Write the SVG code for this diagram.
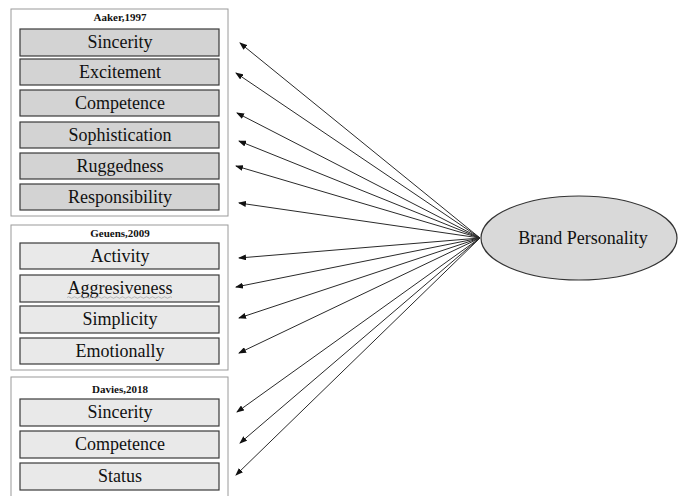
<svg xmlns="http://www.w3.org/2000/svg" width="678" height="496" viewBox="0 0 678 496">
<style>
.outer{fill:#fff;stroke:#9a9a9a;stroke-width:1}
.itemA{fill:#d3d3d3;stroke:#3a3a3a;stroke-width:1.2}
.itemB{fill:#e9e9e9;stroke:#3a3a3a;stroke-width:1.2}
.lbl{font-family:"Liberation Serif","Times New Roman",serif;font-size:18px;fill:#111;text-anchor:middle}
.ttl{font-family:"Liberation Serif","Times New Roman",serif;font-size:11px;font-weight:bold;fill:#111;text-anchor:middle}
.conn{stroke:#2a2a2a;stroke-width:1;fill:none;marker-end:url(#ah)}
</style>
<defs>
<marker id="ah" markerWidth="8" markerHeight="6" refX="7" refY="3" orient="auto" markerUnits="userSpaceOnUse">
<path d="M0,0 L8,3 L0,6 Z" fill="#111"/>
</marker>
</defs>
<rect width="678" height="496" fill="#fff"/>
<g id="group-aaker">
<rect class="outer" x="11" y="9" width="217" height="207"/>
<text class="ttl" x="120" y="21">Aaker,1997</text>
</g>
<g id="aaker-sincerity"><rect class="itemA" x="20" y="29" width="199" height="27"/><text class="lbl" x="120" y="48">Sincerity</text></g>
<g id="aaker-excitement"><rect class="itemA" x="20" y="59" width="199" height="26"/><text class="lbl" x="120" y="78">Excitement</text></g>
<g id="aaker-competence"><rect class="itemA" x="20" y="90" width="199" height="26"/><text class="lbl" x="120" y="109">Competence</text></g>
<g id="aaker-sophistication"><rect class="itemA" x="20" y="122" width="199" height="26"/><text class="lbl" x="120" y="141">Sophistication</text></g>
<g id="aaker-ruggedness"><rect class="itemA" x="20" y="153" width="199" height="26"/><text class="lbl" x="120" y="172">Ruggedness</text></g>
<g id="aaker-responsibility"><rect class="itemA" x="20" y="184" width="199" height="26"/><text class="lbl" x="120" y="203">Responsibility</text></g>

<g id="group-geuens">
<rect class="outer" x="11" y="225" width="217" height="145"/>
<text class="ttl" x="120" y="237">Geuens,2009</text>
</g>
<g id="geuens-activity"><rect class="itemB" x="20" y="243" width="199" height="26"/><text class="lbl" x="120" y="262">Activity</text></g>
<g id="geuens-aggresiveness"><rect class="itemB" x="20" y="275" width="199" height="27"/><text class="lbl" x="120" y="294">Aggresiveness</text>
<path d="M67,297.5 q1.5,-1.5 3,0 t3,0 t3,0 t3,0 t3,0 t3,0 t3,0 t3,0 t3,0 t3,0 t3,0 t3,0 t3,0 t3,0 t3,0 t3,0 t3,0 t3,0 t3,0 t3,0 t3,0 t3,0 t3,0 t3,0 t3,0 t3,0 t3,0 t3,0 t3,0 t3,0 t3,0 t3,0 t3,0 t3,0 t3,0" fill="none" stroke="#aaa" stroke-width="0.8"/></g>
<g id="geuens-simplicity"><rect class="itemB" x="20" y="306" width="199" height="27"/><text class="lbl" x="120" y="325">Simplicity</text></g>
<g id="geuens-emotionally"><rect class="itemB" x="20" y="338" width="199" height="26"/><text class="lbl" x="120" y="357">Emotionally</text></g>

<g id="group-davies">
<rect class="outer" x="11" y="377" width="217" height="125"/>
<text class="ttl" x="120" y="393">Davies,2018</text>
</g>
<g id="davies-sincerity"><rect class="itemB" x="20" y="399" width="199" height="27"/><text class="lbl" x="120" y="418">Sincerity</text></g>
<g id="davies-competence"><rect class="itemB" x="20" y="431" width="199" height="27"/><text class="lbl" x="120" y="450">Competence</text></g>
<g id="davies-status"><rect class="itemB" x="20" y="463" width="199" height="27"/><text class="lbl" x="120" y="482">Status</text></g>

<g id="brand-personality">
<ellipse cx="579" cy="238" rx="98" ry="42" fill="#d9d9d9" stroke="#333" stroke-width="1.2"/>
<text class="lbl" x="583" y="244">Brand Personality</text>
</g>

<g id="connectors">
<line class="conn" x1="480" y1="238" x2="240" y2="43"/>
<line class="conn" x1="480" y1="238" x2="236" y2="73"/>
<line class="conn" x1="480" y1="238" x2="237" y2="113"/>
<line class="conn" x1="480" y1="238" x2="239" y2="141"/>
<line class="conn" x1="480" y1="238" x2="236" y2="166"/>
<line class="conn" x1="480" y1="238" x2="239" y2="203"/>
<line class="conn" x1="480" y1="238" x2="239" y2="258"/>
<line class="conn" x1="480" y1="238" x2="236" y2="287"/>
<line class="conn" x1="480" y1="238" x2="239" y2="318"/>
<line class="conn" x1="480" y1="238" x2="239" y2="353"/>
<line class="conn" x1="480" y1="238" x2="237" y2="412"/>
<line class="conn" x1="480" y1="238" x2="240" y2="443"/>
<line class="conn" x1="480" y1="238" x2="236" y2="475"/>
</g>
</svg>
